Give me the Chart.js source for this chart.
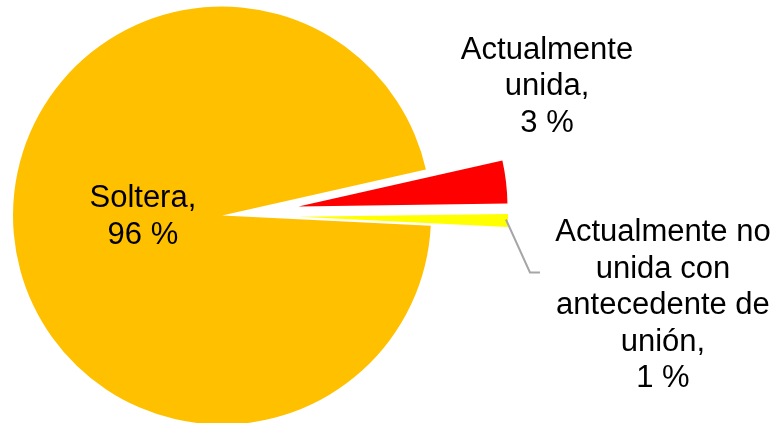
<!DOCTYPE html>
<html>
<head>
<meta charset="utf-8">
<script src="https://cdn.jsdelivr.net/npm/chart.js@4.4.1/dist/chart.umd.min.js"></script>
<style>
  html, body { margin: 0; padding: 0; background: #fff; }
  canvas { display: block; }
</style>
</head>
<body>
<canvas id="pie" width="774" height="423"></canvas>
<script>
// categories (line-broken as in the original labels) and values in %
var categories = [
  ['Soltera'],
  ['Actualmente', 'unida'],
  ['Actualmente no', 'unida con', 'antecedente de', 'unión']
];
var values = [95.7, 3.3, 1.0];
var colors = ['#FFC000', '#FF0000', '#FFFF00'];

// how far each slice is pulled out of the pie, px
var explode = [0, 77, 77];

// label placement relative to each slice (layout only)
//  r: fraction of radius along the bisector, dx/dy: shift to first baseline
var labelPlace = [
  { r: 0.38, dx: 0, dy: -15 },
  { r: 1, dx: 41, dy: -123 },
  { r: 1, dx: 155, dy: 21, leader: [[22, 52], [32, 52]] }
];

// pull slices out along their own bisector after the library lays them out
var explodePlugin = {
  id: 'explode',
  afterDatasetUpdate: function (chart, args) {
    args.meta.data.forEach(function (arc, i) {
      var d = explode[i] || 0;
      if (!d) return;
      var mid = (arc.startAngle + arc.endAngle) / 2;
      arc.x += Math.cos(mid) * d;
      arc.y += Math.sin(mid) * d;
    });
  }
};

var labelPlugin = {
  id: 'sliceLabels',
  afterDatasetsDraw: function (chart) {
    var ctx = chart.ctx;
    var meta = chart.getDatasetMeta(0);
    ctx.save();
    ctx.font = '31px "Liberation Sans", Arial, sans-serif';
    ctx.fillStyle = '#000';
    ctx.textAlign = 'center';
    ctx.textBaseline = 'alphabetic';
    var lh = 36.5;
    meta.data.forEach(function (arc, i) {
      var p = labelPlace[i];
      var mid = (arc.startAngle + arc.endAngle) / 2;
      var rr = arc.outerRadius * p.r;
      var ax = arc.x + Math.cos(mid) * rr;
      var ay = arc.y + Math.sin(mid) * rr;
      var lines = categories[i].slice();
      lines[lines.length - 1] += ',';
      lines.push(Math.round(values[i]) + ' %');
      lines.forEach(function (t, k) {
        ctx.fillText(t, ax + p.dx, ay + p.dy + k * lh);
      });
      if (p.leader) {
        ctx.strokeStyle = '#A6A6A6';
        ctx.lineWidth = 2;
        ctx.beginPath();
        ctx.moveTo(ax - 2, ay - 1);
        p.leader.forEach(function (q) { ctx.lineTo(ax + q[0], ay + q[1]); });
        ctx.stroke();
      }
    });
    ctx.restore();
  }
};

new Chart(document.getElementById('pie').getContext('2d'), {
  type: 'pie',
  data: {
    labels: categories,
    datasets: [{
      data: values,
      backgroundColor: colors,
      borderWidth: 0
    }]
  },
  options: {
    responsive: false,
    animation: false,
    events: [],
    rotation: 92.8,
    radius: 209,
    layout: { padding: { left: 0, right: 330, top: 8, bottom: 0 } },
    plugins: {
      legend: { display: false },
      tooltip: { enabled: false }
    }
  },
  plugins: [explodePlugin, labelPlugin]
});
</script>
</body>
</html>
